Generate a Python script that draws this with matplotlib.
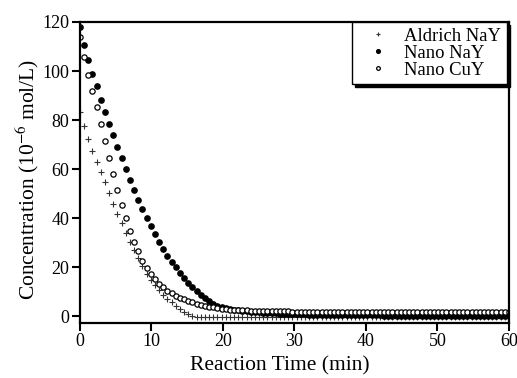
import matplotlib
matplotlib.use("Agg")
import matplotlib.pyplot as plt

# sampling times (min), one reading every ~35 s
time = [0.00, 0.58, 1.17, 1.75, 2.33, 2.91, 3.50, 4.08, 4.66, 5.24,
        5.83, 6.41, 6.99, 7.57, 8.16, 8.74, 9.32, 9.90, 10.49, 11.07,
        11.65, 12.23, 12.82, 13.40, 13.98, 14.56, 15.15, 15.73, 16.31, 16.89,
        17.48, 18.06, 18.64, 19.22, 19.81, 20.39, 20.97, 21.55, 22.14, 22.72,
        23.30, 23.88, 24.47, 25.05, 25.63, 26.21, 26.80, 27.38, 27.96, 28.54,
        29.13, 29.71, 30.29, 30.87, 31.46, 32.04, 32.62, 33.20, 33.79, 34.37,
        34.95, 35.53, 36.12, 36.70, 37.28, 37.86, 38.45, 39.03, 39.61, 40.19,
        40.78, 41.36, 41.94, 42.52, 43.11, 43.69, 44.27, 44.85, 45.44, 46.02,
        46.60, 47.18, 47.77, 48.35, 48.93, 49.51, 50.10, 50.68, 51.26, 51.84,
        52.43, 53.01, 53.59, 54.17, 54.76, 55.34, 55.92, 56.50, 57.09, 57.67,
        58.25, 58.83, 59.42, 60.00]

aldrich_nay = [83.5, 77.5, 72.4, 67.6, 63.1, 58.8, 54.6, 50.3, 45.9, 41.9,
               38.0, 34.0, 30.5, 27.0, 23.6, 20.4, 17.4, 15.0, 12.8, 10.6,
               8.9, 7.1, 5.7, 4.4, 3.0, 1.8, 1.0, 0.3, -0.1, -0.2,
               -0.3, -0.3, -0.3, -0.3, -0.3, -0.3, -0.3, -0.3, -0.3, -0.3,
               -0.3, -0.3, -0.3, -0.3, -0.3, -0.3, -0.3, -0.3, -0.3, -0.3,
               -0.3, -0.3, -0.3, -0.3, -0.3, -0.3, -0.3, -0.3, -0.3, -0.3,
               -0.3, -0.3, -0.3, -0.3, -0.3, -0.3, -0.3, -0.3, -0.3, -0.3,
               -0.3, -0.3, -0.3, -0.3, -0.3, -0.3, -0.3, -0.3, -0.3, -0.3,
               -0.3, -0.3, -0.3, -0.3, -0.3, -0.3, -0.3, -0.3, -0.3, -0.3,
               -0.3, -0.3, -0.3, -0.3, -0.3, -0.3, -0.3, -0.3, -0.3, -0.3,
               -0.3, -0.3, -0.3, -0.3]

nano_nay = [118.0, 110.5, 104.5, 98.9, 93.9, 88.4, 83.4, 78.5, 73.8, 69.1,
            64.4, 59.9, 55.5, 51.4, 47.6, 43.8, 40.3, 36.9, 33.6, 30.4,
            27.5, 24.7, 22.2, 20.0, 17.7, 15.5, 13.5, 11.8, 10.2, 8.7,
            7.5, 6.3, 5.2, 4.4, 3.8, 3.3, 2.9, 2.6, 2.4, 2.2,
            2.0, 1.85, 1.7, 1.6, 1.5, 1.4, 1.3, 1.2, 1.1, 1.05,
            1.0, 0.95, 0.9, 0.85, 0.8, 0.75, 0.7, 0.7, 0.65, 0.6,
            0.6, 0.55, 0.5, 0.5, 0.5, 0.45, 0.45, 0.4, 0.4, 0.4,
            0.4, 0.4, 0.4, 0.35, 0.35, 0.35, 0.35, 0.35, 0.35, 0.35,
            0.3, 0.3, 0.3, 0.3, 0.3, 0.3, 0.3, 0.3, 0.3, 0.3,
            0.3, 0.3, 0.3, 0.3, 0.3, 0.3, 0.3, 0.3, 0.3, 0.3,
            0.3, 0.3, 0.3, 0.3]

nano_cuy = [113.8, 105.8, 98.5, 91.8, 85.2, 78.5, 71.3, 64.5, 58.2, 51.6,
            45.5, 40.0, 35.0, 30.2, 26.5, 22.7, 19.9, 17.3, 15.3, 13.3,
            11.8, 10.5, 9.4, 8.4, 7.6, 6.9, 6.3, 5.7, 5.2, 4.8,
            4.4, 4.0, 3.7, 3.4, 3.2, 3.0, 2.8, 2.7, 2.6, 2.5,
            2.4, 2.35, 2.3, 2.25, 2.2, 2.15, 2.1, 2.1, 2.05, 2.0,
            2.0, 1.95, 1.95, 1.9, 1.9, 1.9, 1.85, 1.85, 1.85, 1.8,
            1.8, 1.8, 1.8, 1.75, 1.75, 1.75, 1.75, 1.75, 1.7, 1.7,
            1.7, 1.7, 1.7, 1.7, 1.7, 1.7, 1.65, 1.65, 1.65, 1.65,
            1.65, 1.65, 1.65, 1.65, 1.65, 1.6, 1.6, 1.6, 1.6, 1.6,
            1.6, 1.6, 1.6, 1.6, 1.6, 1.6, 1.6, 1.6, 1.6, 1.6,
            1.6, 1.6, 1.6, 1.6]

plt.rcParams['font.family'] = ['Liberation Serif', 'DejaVu Serif']
plt.rcParams['mathtext.fontset'] = 'stix'

fig = plt.figure(figsize=(5.17, 3.78), dpi=100)
ax = fig.add_axes([0.1547, 0.1455, 0.8298, 0.7963])

ax.plot(time, aldrich_nay, linestyle='none', marker='+', ms=5, mew=0.8,
        color='#333333', label='Aldrich NaY')
ax.plot(time, nano_nay, linestyle='none', marker='o', ms=3.8,
        color='black', label='Nano NaY')
ax.plot(time, nano_cuy, linestyle='none', marker='o', ms=3.8, mew=0.9,
        markerfacecolor='white', markeredgecolor='black', label='Nano CuY')

ax.set_xlim(0, 60)
ax.set_ylim(-2.7, 120)
ax.set_xticks([0, 10, 20, 30, 40, 50, 60])
ax.set_yticks([0, 20, 40, 60, 80, 100, 120])
ax.set_xlabel('Reaction Time (min)', fontsize=15.5)
ax.set_ylabel('Concentration (10$^{-6}$ mol/L)', fontsize=15.5)
ax.xaxis.set_label_coords(0.466, -0.11)
ax.yaxis.set_label_coords(-0.09, 0.478)

for s in ax.spines.values():
    s.set_linewidth(1.6)
ax.tick_params(direction='out', length=5.5, width=1.5, labelsize=13, pad=2)

leg = ax.legend(loc='upper right', bbox_to_anchor=(0.995, 1.0), borderaxespad=0,
                fontsize=13.4, labelspacing=0, handlelength=2.2,
                handletextpad=0.3, borderpad=0.3, markerscale=0.7,
                fancybox=False, edgecolor='black',
                shadow={'ox': 2, 'oy': -2, 'color': 'black', 'alpha': 1})
leg.get_frame().set_linewidth(1.0)

fig.savefig('out.png', dpi=100)
